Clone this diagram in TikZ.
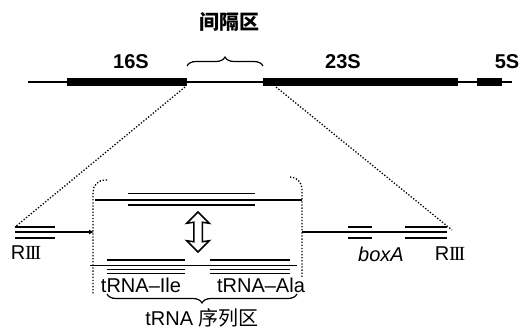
\documentclass[tikz,border=0pt]{standalone}
\usepackage{fontspec}
\setmainfont{Liberation Sans}
\newfontfamily\cjk{Noto Sans CJK SC}
\newfontfamily\rom{Liberation Serif}
\newcommand{\rthree}{R{\rom I\kern-2pt I\kern-2pt I}}
\usetikzlibrary{shapes.arrows,decorations.pathreplacing,arrows.meta}

\begin{document}
\begin{tikzpicture}[x=1pt,y=-1pt, every node/.style={font=\fontsize{20}{22}\selectfont,inner sep=0pt},
    gene/.style={fill=black,minimum height=8.5pt,inner sep=0pt},
    zoomline/.style={line width=1.3pt,dash pattern=on 1.3pt off 1.8pt},
    grp/.style={line width=1.2pt,decorate,decoration={brace,amplitude=9pt}}]
        \useasboundingbox (0,0) rectangle (519,329);
        % Operon
        \coordinate (g0) at (28,82);
        \coordinate (g1) at (512,82);
        \draw[line width=1.8pt] (g0)--(g1);
        \node[gene,minimum width=120pt] (r16) at (127,82) {};
        \node[gene,minimum width=195pt] (r23) at (360.5,82) {};
        \node[gene,minimum width=25pt] (r5) at (489.5,82) {};
        \node (l16) at (131,62) {\bfseries 16S};
        \node (l23) at (343,62) {\bfseries 23S};
        \node (l5) at (507,62) {\bfseries 5S};
        % Spacer
        \coordinate (sp0) at (187,66);
        \coordinate (sp1) at (263,66);
        \draw[grp] (sp0)--(sp1);
        \node[font=\cjk\bfseries\fontsize{20}{22}\selectfont] (lsp) at (229,22) {间隔区};
        % Zoom lines
        \coordinate (z0) at (185,87);
        \coordinate (z1) at (15,227);
        \coordinate (z2) at (276,87);
        \coordinate (z3) at (452,230);
        \draw[zoomline] (z0)--(z1) (z2)--(z3);
        % Bracket round tRNA region
        \coordinate (bl0) at (107,180);
        \coordinate (bl1) at (93,180);
        \coordinate (bl2) at (93,294);
        \coordinate (br0) at (290,177);
        \coordinate (br1) at (302,177);
        \coordinate (br2) at (302,278);
        \draw[zoomline,rounded corners=12pt] (bl0)--(bl1)--(bl2);
        \draw[zoomline,rounded corners=12pt] (br0)--(br1)--(br2);
        % Left flank
        \coordinate (a0) at (15,232);
        \coordinate (a1) at (94,232);
        \draw[line width=1.8pt,-{Latex[length=5pt,width=5pt]}] (a0)--(a1);
        \draw[line width=2.8pt] (15,232)--(55,232);
        \draw[line width=1.5pt] (15,227)--(55,227);
        \draw[line width=1.1pt] (15,238)--(55,238);
        \node (r3l) at (26,253) {\rthree};
        % Right flank
        \coordinate (b0) at (302,232);
        \coordinate (b1) at (447,232);
        \draw[line width=2pt] (b0)--(b1);
        \draw[line width=2.8pt] (348,232)--(372,232) (405,232)--(447,232);
        \draw[line width=1.4pt] (348,227)--(372,227) (405,227)--(447,227);
        \draw[line width=1.2pt] (348,238)--(372,238) (405,238)--(447,238);
        \node (box) at (381,254) {\itshape boxA};
        \node (r3r) at (450,254) {\rthree};
        % Upper strand
        \coordinate (u0) at (95,200);
        \coordinate (u1) at (302,200);
        \draw[line width=2.4pt] (u0)--(u1);
        \draw[line width=1.1pt] (128,193.5)--(255,193.5) (128,205)--(255,205);
        % Exchange
        \node[double arrow,draw,line width=1.5pt,fill=white,rotate=90,minimum height=40pt,
              inner sep=3.5pt,double arrow head extend=7pt,double arrow head indent=1pt] (swap) at (198,232) {};
        % Lower strand
        \coordinate (d0) at (90,265.5);
        \coordinate (d1) at (297,265.5);
        \draw[line width=1.6pt] (d0)--(d1);
        \draw[line width=2.4pt] (107,260)--(185,260) (210,260)--(290,260);
        \draw[line width=1.5pt] (107,269.5)--(185,269.5) (210,269.5)--(290,269.5);
        \draw[line width=0.9pt] (107,273)--(185,273) (210,273)--(290,273);
        \node (ile) at (141,285) {tRNA–Ile};
        \node (ala) at (261,285) {tRNA–Ala};
        % tRNA region
        \coordinate (t0) at (107,294);
        \coordinate (t1) at (297,294);
        \draw[grp] (t1)--(t0);
        \node (lt) at (202,318) {tRNA {\cjk 序列区}};
      \end{tikzpicture}
\end{document}
